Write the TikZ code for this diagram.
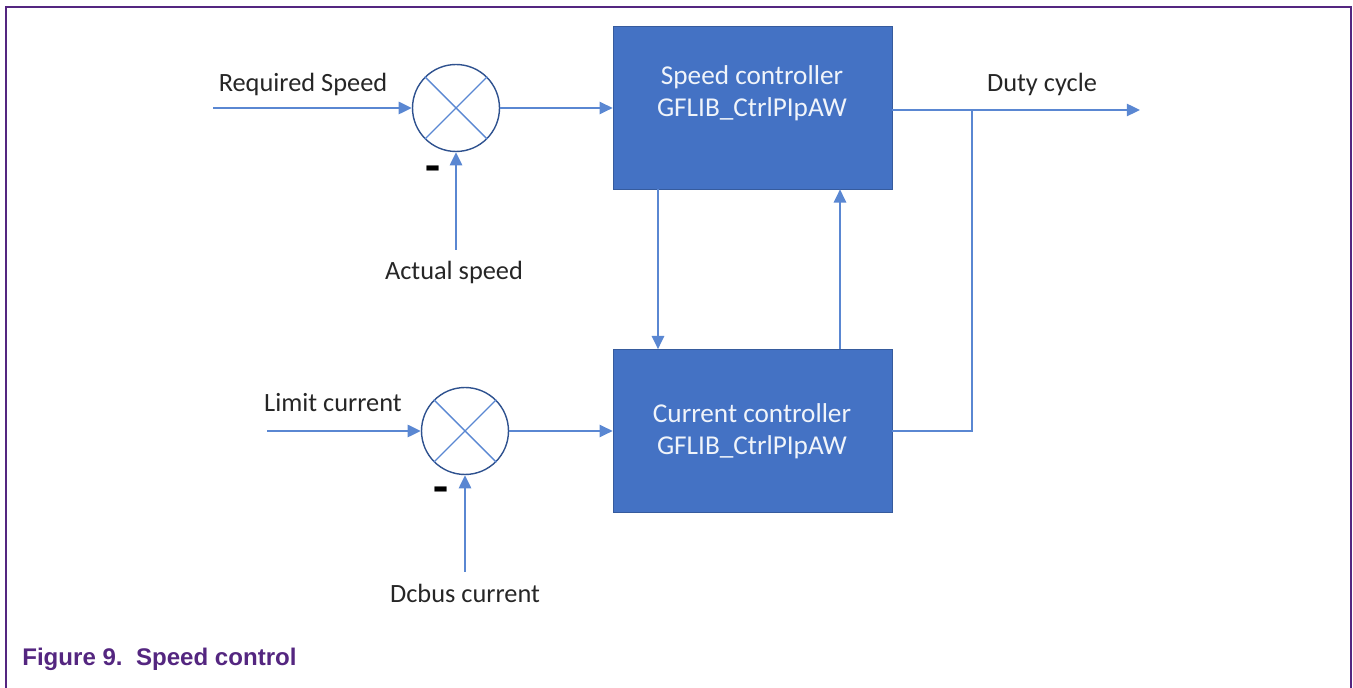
\documentclass[tikz,border=0pt]{standalone}
\usepackage{fontspec}
\setmainfont{Carlito}
\newfontfamily\capfont{Liberation Sans}
\usetikzlibrary{arrows.meta}
\definecolor{nxppurple}{RGB}{84,38,128}
\definecolor{boxblue}{RGB}{68,114,196}
\definecolor{lineblue}{RGB}{90,135,210}
\definecolor{ringblue}{RGB}{47,82,143}
\definecolor{txtgray}{RGB}{38,38,38}
\tikzset{
  blk/.style={rectangle, fill=boxblue, draw=boxblue!80!black, line width=0.4pt, minimum width=5.58cm, minimum height=3.26cm, inner sep=0pt},
  blktxt/.style={text=white!92!boxblue, align=center, font=\fontsize{15.5}{18}\selectfont},
  sumnode/.style={circle, draw=ringblue, line width=0.8pt, minimum size=1.74cm, inner sep=0pt},
  crossln/.style={draw=lineblue, line width=0.8pt},
  conn/.style={draw=lineblue, line width=1.1pt},
  arr/.style={conn, -{Triangle[length=7.5pt,width=7pt]}},
  lbl/.style={text=txtgray, font=\fontsize{15}{18}\selectfont, inner sep=0pt},
  minus/.style={text=black, font=\fontsize{28}{28}\selectfont\bfseries, inner sep=0pt},
  frame/.style={draw=nxppurple, line width=1.4pt}
}
\begin{document}
\begin{tikzpicture}[x=0.02cm,y=-0.02cm]
\useasboundingbox (0,0) rectangle (1353,688);
% frame
\coordinate (fbl) at (6,690);
\coordinate (ftl) at (6,7);
\coordinate (ftr) at (1351,7);
\coordinate (fbr) at (1351,690);
\draw[frame] (fbl) -- (ftl) -- (ftr) -- (fbr);
% caption
\node[anchor=west, text=nxppurple, font=\capfont\bfseries\fontsize{13.7}{16}\selectfont, inner sep=0pt] (cap) at (22,659) {Figure 9.\ \ Speed control};
% blocks
\node[blk] (sc) at (752.5,107.5) {};
\node[blktxt] (sct) at (752,93) {Speed controller\\GFLIB\_CtrlPIpAW};
\node[blk] (cc) at (752.5,431) {};
\node[blktxt] (cct) at (752,431) {Current controller\\GFLIB\_CtrlPIpAW};
% summing junctions
\node[sumnode] (s1) at (456,108) {};
\draw[crossln] (s1.45) -- (s1.225) (s1.135) -- (s1.-45);
\node[sumnode] (s2) at (465,431) {};
\draw[crossln] (s2.45) -- (s2.225) (s2.135) -- (s2.-45);
% inputs
\coordinate (rsin) at (213,108);
\coordinate (asin) at (456,250);
\coordinate (lcin) at (267,431);
\coordinate (dcin) at (465,572);
\draw[arr] (rsin) -- (s1.west);
\draw[arr] (asin) -- (s1.south);
\draw[arr] (lcin) -- (s2.west);
\draw[arr] (dcin) -- (s2.south);
\draw[arr] (s1.east) -- (sc.west |- s1.east);
\draw[arr] (s2.east) -- (cc.west |- s2.east);
% labels
\node[lbl] (rsl) at (303,84) {Required Speed};
\node[lbl] (asl) at (454,272) {Actual speed};
\node[lbl] (lcl) at (333,403) {Limit current};
\node[lbl] (dcl) at (465,593) {Dcbus current};
\node[lbl] (dutl) at (1042,84) {Duty cycle};
\node[minus] (m1) at (433,174) {-};
\node[minus] (m2) at (441,495) {-};
% between blocks
\coordinate (dn) at (658,0);
\coordinate (up) at (840,0);
\draw[arr] (sc.south -| dn) -- (cc.north -| dn);
\draw[arr] (cc.north -| up) -- (sc.south -| up);
% output
\coordinate (br) at (972,110);
\coordinate (outend) at (1140,110);
\draw[arr] (sc.east |- br) -- (outend);
\draw[conn] (br) |- (cc.east);
\end{tikzpicture}
\end{document}
